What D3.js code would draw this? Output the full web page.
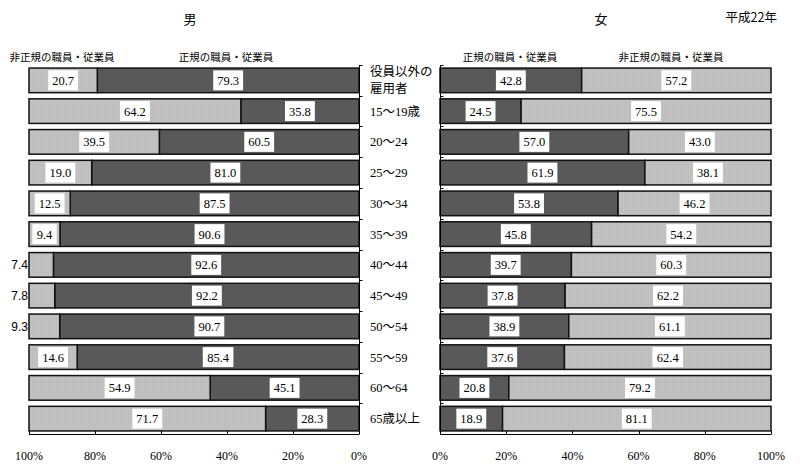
<!DOCTYPE html>
<html><head><meta charset="utf-8">
<script src="https://cdn.jsdelivr.net/npm/d3@7"></script>
<style>body{margin:0;background:#fff}svg{display:block}</style>
</head><body>
<svg id="chart" width="800" height="474"></svg>
<script>
const categories = ["役員以外の\n雇用者","15〜19歳","20〜24","25〜29","30〜34","35〜39","40〜44","45〜49","50〜54","55〜59","60〜64","65歳以上"];
const maleRegular    = [79.3,35.8,60.5,81.0,87.5,90.6,92.6,92.2,90.7,85.4,45.1,28.3];
const maleNonRegular = [20.7,64.2,39.5,19.0,12.5,9.4,7.4,7.8,9.3,14.6,54.9,71.7];
const femaleRegular    = [42.8,24.5,57.0,61.9,53.8,45.8,39.7,37.8,38.9,37.6,20.8,18.9];
const femaleNonRegular = [57.2,75.5,43.0,38.1,46.2,54.2,60.3,62.2,61.1,62.4,79.2,81.1];
const tickValues = [0,20,40,60,80,100];
const outsideLabelCats = ["40〜44","45〜49","50〜54"];
const titles = {male:"男", female:"女", year:"平成22年"};
const seriesNames = {regular:"正規の職員・従業員", nonRegular:"非正規の職員・従業員"};

const svg = d3.select("#chart");
const DARK = "#595959", LIGHT = "#c2c2c2";
const serif = "'Liberation Serif','Noto Sans CJK JP',serif";
const jp = "'Noto Sans CJK JP',sans-serif";

// subtle dotted pattern for light segments
const defs = svg.append("defs");
const pat = defs.append("pattern").attr("id","dots").attr("width",2).attr("height",2).attr("patternUnits","userSpaceOnUse");
pat.append("rect").attr("width",2).attr("height",2).attr("fill",LIGHT);
pat.append("rect").attr("x",0).attr("y",0).attr("width",1).attr("height",1).attr("fill","#bababa");

const y = d3.scaleBand().domain(categories).range([65,434]).paddingInner(0.2).paddingOuter(0.1);
const xM = d3.scaleLinear().domain([0,100]).range([359,29]);
const xF = d3.scaleLinear().domain([0,100]).range([440,771]);

function panel(x, regular, nonReg, isMale){
  const g = svg.append("g");
  const rows = categories.map((c,i)=>({c, r:regular[i], n:nonReg[i]}));
  const segs = [];
  rows.forEach(d=>{
    segs.push({c:d.c, x0:0, x1:d.r, v:d.r, fill:DARK, kind:"r"});
    segs.push({c:d.c, x0:d.r, x1:100, v:d.n, fill:"url(#dots)", kind:"n"});
  });
  g.selectAll("rect.seg").data(segs).join("rect").attr("class","seg")
    .attr("x",d=>Math.min(x(d.x0),x(d.x1)))
    .attr("width",d=>Math.abs(x(d.x1)-x(d.x0)))
    .attr("y",d=>y(d.c)).attr("height",y.bandwidth())
    .attr("fill",d=>d.fill).attr("stroke","#111").attr("stroke-width",1.5);
  segs.forEach(d=>{
    const cy = y(d.c)+y.bandwidth()/2;
    if(isMale && d.kind==="n" && outsideLabelCats.includes(d.c)){
      g.append("text").attr("x",x(100)-1).attr("y",cy).attr("dy","0.35em")
        .attr("text-anchor","end").attr("font-family","'Liberation Sans',sans-serif")
        .attr("font-size",12).attr("fill","#000").text(d.v.toFixed(1));
      return;
    }
    const cx = (x(d.x0)+x(d.x1))/2;
    const t = g.append("text").attr("x",cx).attr("y",cy).attr("dy","0.36em")
      .attr("text-anchor","middle").attr("font-family",serif).attr("font-size",12.5)
      .attr("fill","#000").text(d.v.toFixed(1));
    const bb = t.node().getBBox();
    g.insert("rect","text:last-child")
      .attr("x",cx-bb.width/2-4).attr("width",bb.width+8)
      .attr("y",cy-10).attr("height",20).attr("fill","#fff");
    t.raise();
  });
  const axY = 434;
  g.append("line").attr("x1",x(0)).attr("x2",x(100)).attr("y1",axY+0.5).attr("y2",axY+0.5).attr("stroke","#000");
  g.selectAll("line.tk").data(tickValues).join("line").attr("class","tk")
    .attr("x1",d=>Math.round(x(d))+0.5).attr("x2",d=>Math.round(x(d))+0.5)
    .attr("y1",axY-3).attr("y2",axY+0.5).attr("stroke","#000");
  g.selectAll("text.tl").data(tickValues).join("text").attr("class","tl")
    .attr("x",d=>x(d)).attr("y",460).attr("text-anchor","middle")
    .attr("font-family",serif).attr("font-size",12).text(d=>d+"%");
  const vx = Math.round(x(0))+0.5;
  g.append("line").attr("x1",vx).attr("x2",vx).attr("y1",65).attr("y2",axY).attr("stroke","#000");
  const bounds = categories.map(c=>y(c)-y.step()*y.paddingInner()/2);
  g.selectAll("line.vt").data(bounds.slice(1).concat([65])).join("line").attr("class","vt")
    .attr("x1",vx).attr("x2",vx+3).attr("y1",d=>Math.round(d)+0.5).attr("y2",d=>Math.round(d)+0.5)
    .attr("stroke","#000");
}

panel(xM, maleRegular, maleNonRegular, true);
panel(xF, femaleRegular, femaleNonRegular, false);

categories.forEach(c=>{
  const lines = c.split("\n");
  const cy = y(c)+y.bandwidth()/2;
  const t = svg.append("text").attr("x",370).attr("font-family",serif).attr("font-size",12.5).attr("fill","#000");
  lines.forEach((ln,i)=>{
    t.append("tspan").attr("x",370).attr("y",cy + (i-(lines.length-1)/2)*17).attr("dy","0.35em").text(ln);
  });
});

svg.append("text").attr("x",190).attr("y",24).attr("text-anchor","middle").attr("font-family",jp).attr("font-size",13).text(titles.male);
svg.append("text").attr("x",601).attr("y",24).attr("text-anchor","middle").attr("font-family",jp).attr("font-size",13).text(titles.female);
svg.append("text").attr("x",777).attr("y",22).attr("text-anchor","end").attr("font-family",jp).attr("font-size",12.5).text(titles.year);

function hdr(x, txt){
  svg.append("text").attr("x",x).attr("y",61).attr("text-anchor","middle").attr("font-family",jp).attr("font-size",10.5).text(txt);
}
hdr(62, seriesNames.nonRegular);
hdr(226, seriesNames.regular);
hdr(510, seriesNames.regular);
hdr(671, seriesNames.nonRegular);
</script>
</body></html>
